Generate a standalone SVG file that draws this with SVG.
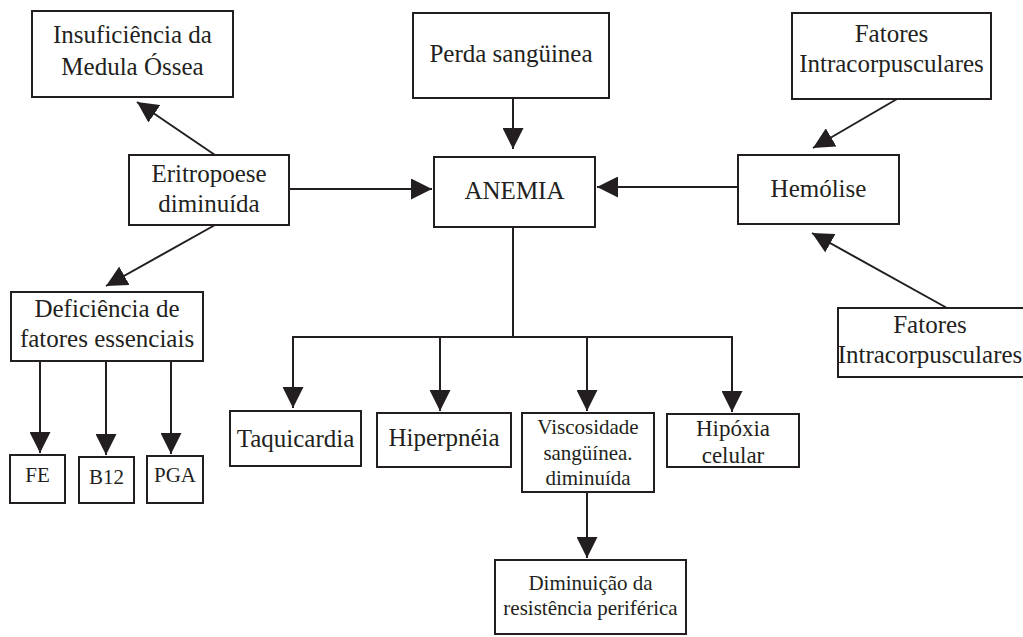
<svg xmlns="http://www.w3.org/2000/svg" width="1023" height="637" viewBox="0 0 1023 637">
<style>
rect.box{fill:#fff;stroke:#231f20;stroke-width:2}
text{font-family:"Liberation Serif","Times New Roman",serif;fill:#231f20;text-anchor:middle;font-size:25px}
text.s{font-size:21px}
text.m{font-size:23px}
.con path,.con line{stroke:#231f20;stroke-width:2;fill:none}
</style>
<defs>
<marker id="ah" markerUnits="userSpaceOnUse" markerWidth="21" markerHeight="21" refX="21" refY="10.5" orient="auto" viewBox="0 0 21 21">
<path d="M0,0 L21,10.5 L0,21 z" fill="#231f20"/>
</marker>
</defs>
<rect width="1023" height="637" fill="#fff"/>
<g class="con">
<line x1="215" y1="155" x2="137" y2="102" marker-end="url(#ah)"/>
<line x1="215" y1="225" x2="106" y2="286" marker-end="url(#ah)"/>
<line x1="289" y1="189" x2="432" y2="189" marker-end="url(#ah)"/>
<line x1="513" y1="98" x2="513" y2="149" marker-end="url(#ah)"/>
<line x1="738" y1="187" x2="597" y2="187" marker-end="url(#ah)"/>
<line x1="897" y1="99" x2="813" y2="148" marker-end="url(#ah)"/>
<line x1="947" y1="308" x2="812" y2="233" marker-end="url(#ah)"/>
<path d="M513,227 V337 M292,337 H733"/>
<line x1="293" y1="337" x2="293" y2="408" marker-end="url(#ah)"/>
<line x1="440" y1="337" x2="440" y2="411" marker-end="url(#ah)"/>
<line x1="587" y1="337" x2="587" y2="411" marker-end="url(#ah)"/>
<line x1="732" y1="337" x2="732" y2="412" marker-end="url(#ah)"/>
<line x1="40" y1="361" x2="40" y2="453" marker-end="url(#ah)"/>
<line x1="106" y1="361" x2="106" y2="455" marker-end="url(#ah)"/>
<line x1="171" y1="361" x2="171" y2="454" marker-end="url(#ah)"/>
<line x1="587" y1="492" x2="587" y2="558" marker-end="url(#ah)"/>
</g>
<g id="insuficiencia"><rect class="box" x="32" y="11" width="201" height="86"/><text x="132.5" y="43">Insuficiência da</text><text x="132.5" y="75">Medula Óssea</text></g>
<g id="perda"><rect class="box" x="413" y="13" width="196" height="85"/><text x="511" y="62">Perda sangüinea</text></g>
<g id="fatores-top"><rect class="box" x="792" y="13" width="199" height="86"/><text x="891.5" y="42">Fatores</text><text x="891.5" y="72">Intracorpusculares</text></g>
<g id="eritropoese"><rect class="box" x="129" y="155" width="160" height="70"/><text x="209" y="182">Eritropoese</text><text x="209" y="212">diminuída</text></g>
<g id="anemia"><rect class="box" x="434" y="157" width="161" height="70"/><text x="514.5" y="199">ANEMIA</text></g>
<g id="hemolise"><rect class="box" x="738" y="155" width="161" height="69"/><text x="818.5" y="197">Hemólise</text></g>
<g id="deficiencia"><rect class="box" x="11" y="292" width="192" height="69"/><text x="107" y="317">Deficiência de</text><text x="107" y="347">fatores essenciais</text></g>
<g id="fatores-bottom"><rect class="box" x="838" y="308" width="195" height="69"/><text x="930" y="333">Fatores</text><text x="930" y="363">Intracorpusculares</text></g>
<g id="taquicardia"><rect class="box" x="230" y="411" width="131" height="55"/><text x="295.5" y="447">Taquicardia</text></g>
<g id="hiperpneia"><rect class="box" x="377" y="413" width="134" height="54"/><text x="444" y="446">Hiperpnéia</text></g>
<g id="viscosidade"><rect class="box" x="522" y="413" width="132" height="79"/><text class="s" x="588" y="434">Viscosidade</text><text class="s" x="588" y="460">sangüínea.</text><text class="s" x="588" y="485">diminuída</text></g>
<g id="hipoxia"><rect class="box" x="667" y="414" width="132" height="53"/><text class="m" x="733" y="436">Hipóxia</text><text class="m" x="733" y="463">celular</text></g>
<g id="fe"><rect class="box" x="10" y="455" width="55" height="48"/><text class="s" x="37.5" y="482">FE</text></g>
<g id="b12"><rect class="box" x="79" y="457" width="55" height="46"/><text class="s" x="106.5" y="484">B12</text></g>
<g id="pga"><rect class="box" x="147" y="456" width="56" height="47"/><text class="s" x="175" y="482">PGA</text></g>
<g id="diminuicao"><rect class="box" x="495" y="560" width="191" height="74"/><text class="s" x="590.5" y="590">Diminuição da</text><text class="s" x="590.5" y="615">resistência periférica</text></g>
</svg>
